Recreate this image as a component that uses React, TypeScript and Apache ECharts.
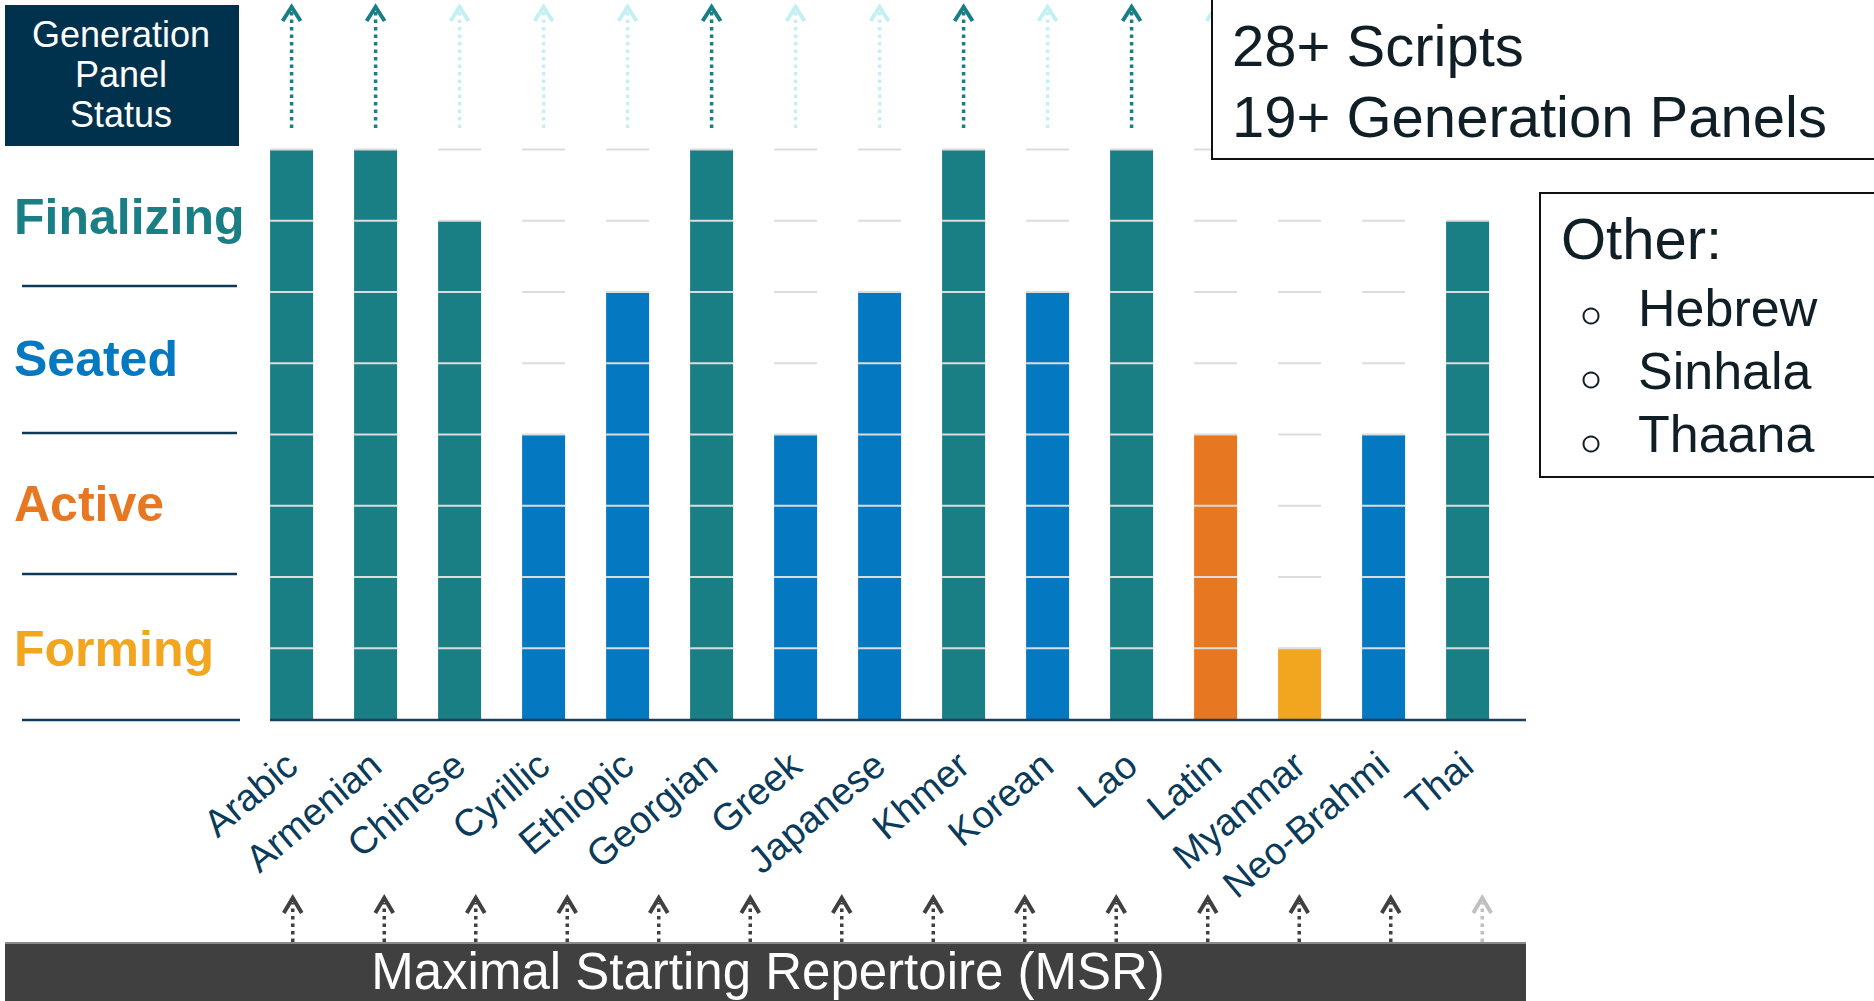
import React, { useEffect, useRef } from "react";
import * as echarts from "echarts";

const categories = ["Arabic", "Armenian", "Chinese", "Cyrillic", "Ethiopic", "Georgian", "Greek", "Japanese", "Khmer", "Korean", "Lao", "Latin", "Myanmar", "Neo-Brahmi", "Thai"];
const stageLevels = [8, 8, 7, 4, 6, 8, 4, 6, 8, 6, 8, 4, 1, 4, 7];
const panelStatus = ["Finalizing", "Finalizing", "Finalizing", "Seated", "Seated", "Finalizing", "Seated", "Seated", "Finalizing", "Seated", "Finalizing", "Active", "Forming", "Seated", "Finalizing"];
const panelArrowState = ["done", "done", "open", "open", "open", "done", "open", "open", "done", "open", "done", "open", "open", "open", "open"];
const msrArrowState = ["done", "done", "done", "done", "done", "done", "done", "done", "done", "done", "done", "done", "done", "open"];
const gridLevels = [1, 2, 3, 4, 5, 6, 7, 8];
const statusNames = ["Finalizing", "Seated", "Active", "Forming"];
const summaryLines = ["28+ Scripts", "19+ Generation Panels"];
const otherTitle = "Other:";
const otherScripts = ["Hebrew", "Sinhala", "Thaana"];
const titleText = "Generation\nPanel\nStatus";
const msrText = "Maximal Starting Repertoire (MSR)";

const FONT = "'Liberation Sans', Arial, sans-serif";
const statusColors: Record<string, string> = {
  Finalizing: "#1A7F84",
  Seated: "#0479C1",
  Active: "#E87722",
  Forming: "#F2A61F",
};
const panelArrowColors: Record<string, string> = { done: "#1A7F84", open: "#C4F0F4" };
const msrArrowColors: Record<string, string> = { done: "#404040", open: "#C0C0C0" };

function arrowShape(x: number, yBottom: number, yTop: number, color: string, half: number, head: number) {
  return {
    type: "group",
    children: [
      {
        type: "line",
        shape: { x1: x, y1: yBottom, x2: x, y2: yTop + 5 },
        style: { stroke: color, lineWidth: 3.5, lineDash: [3.5, 4] },
      },
      {
        type: "polyline",
        shape: { points: [[x - half, yTop + head], [x, yTop], [x + half, yTop + head]] },
        style: { stroke: color, lineWidth: 4, fill: "none", lineJoin: "miter" },
      },
    ],
  };
}

export default function App() {
  const ref = useRef<HTMLDivElement>(null);

  useEffect(() => {
    if (!ref.current) return;
    const chart = echarts.init(ref.current, undefined, { renderer: "svg" });

    const gridData: number[][] = [];
    categories.forEach((_, i) => gridLevels.forEach((lv) => gridData.push([i, lv])));

    const labelY = [217, 359, 504, 649];
    const sepY = [286, 433, 574];

    const graphic: any[] = [
      // title box
      { type: "rect", z: 100, shape: { x: 5, y: 5, width: 234, height: 141 }, style: { fill: "#00324E" } },
      {
        type: "text", z: 101, x: 121, y: 74,
        style: { text: titleText, fill: "#FFFFFF", fontSize: 36, fontFamily: FONT, lineHeight: 40, textAlign: "center", textVerticalAlign: "middle" },
      },
      // status labels
      ...statusNames.map((s, i) => ({
        type: "text", z: 100, x: 14, y: labelY[i],
        style: { text: s, fill: statusColors[s], fontSize: 50, fontWeight: "bold", fontFamily: FONT, textAlign: "left", textVerticalAlign: "middle" },
      })),
      ...sepY.map((y) => ({
        type: "line", z: 100, shape: { x1: 22, y1: y, x2: 237, y2: y }, style: { stroke: "#0E3A58", lineWidth: 2.5 },
      })),
      { type: "line", z: 100, shape: { x1: 22, y1: 720, x2: 240, y2: 720 }, style: { stroke: "#0E3A58", lineWidth: 2.5 } },
      // axis baseline
      { type: "line", z: 100, shape: { x1: 270, y1: 720, x2: 1526, y2: 720 }, style: { stroke: "#1B3F5C", lineWidth: 2.5 } },
      // summary box
      { type: "rect", z: 100, shape: { x: 1212, y: -5, width: 700, height: 164 }, style: { fill: "#FFFFFF", stroke: "#111111", lineWidth: 2 } },
      ...summaryLines.map((t, i) => ({
        type: "text", z: 101, x: 1232, y: 45 + i * 71,
        style: { text: t, fill: "#101F26", fontSize: 58, fontFamily: FONT, textAlign: "left", textVerticalAlign: "middle" },
      })),
      // other box
      { type: "rect", z: 100, shape: { x: 1540, y: 193, width: 400, height: 284 }, style: { fill: "#FFFFFF", stroke: "#111111", lineWidth: 2 } },
      {
        type: "text", z: 101, x: 1561, y: 238,
        style: { text: otherTitle, fill: "#101F26", fontSize: 58, fontFamily: FONT, textAlign: "left", textVerticalAlign: "middle" },
      },
      ...otherScripts.flatMap((t, i) => [
        { type: "circle", z: 101, shape: { cx: 1591, cy: 316 + i * 64, r: 7.5 }, style: { fill: "none", stroke: "#101F26", lineWidth: 2 } },
        {
          type: "text", z: 101, x: 1638, y: 308 + i * 63,
          style: { text: t, fill: "#101F26", fontSize: 52, fontFamily: FONT, textAlign: "left", textVerticalAlign: "middle" },
        },
      ]),
      // MSR bar
      { type: "rect", z: 100, shape: { x: 5, y: 942, width: 1521, height: 70 }, style: { fill: "#404040" } },
      { type: "line", z: 101, shape: { x1: 5, y1: 943, x2: 1526, y2: 943 }, style: { stroke: "#8A8A8A", lineWidth: 2 } },
      {
        type: "text", z: 102, x: 768, y: 971,
        style: { text: msrText, fill: "#FFFFFF", fontSize: 51, fontFamily: FONT, textAlign: "center", textVerticalAlign: "middle" },
      },
    ];

    chart.setOption({
      animation: false,
      backgroundColor: "#FFFFFF",
      grid: [
        { left: 249.6, width: 1260, top: 149.4, height: 570.1 },
        { left: 247, width: 1281, top: 898, height: 44 },
        { left: 249.6, width: 1260, top: 7, height: 121 },
      ],
      xAxis: [
        {
          type: "category", gridIndex: 0, data: categories,
          axisLine: { show: false }, axisTick: { show: false },
          axisLabel: { rotate: 40, margin: 40, fontSize: 38, color: "#0B3B5A", fontFamily: FONT, interval: 0 },
        },
        { type: "category", gridIndex: 1, data: msrArrowState.map((_, i) => "m" + i), show: false },
        { type: "category", gridIndex: 2, data: categories, show: false },
      ],
      yAxis: [
        { type: "value", gridIndex: 0, min: 0, max: 8, interval: 1, show: false },
        { type: "value", gridIndex: 1, min: 0, max: 1, show: false },
        { type: "value", gridIndex: 2, min: 0, max: 1, show: false },
      ],
      series: [
        {
          type: "bar", xAxisIndex: 0, yAxisIndex: 0, barWidth: 43, z: 2,
          data: stageLevels.map((v, i) => ({ value: v, itemStyle: { color: statusColors[panelStatus[i]] } })),
          silent: true,
        },
        {
          type: "custom", xAxisIndex: 0, yAxisIndex: 0, z: 3, silent: true,
          data: gridData,
          encode: { x: 0, y: 1 },
          renderItem: (params: any, api: any) => {
            const c = api.coord([api.value(0), api.value(1)]);
            const w = api.size([1, 0])[0] * 0.512;
            return {
              type: "line",
              shape: { x1: c[0] - w / 2, y1: c[1], x2: c[0] + w / 2, y2: c[1] },
              style: { stroke: "#DCDCDC", lineWidth: 2 },
            };
          },
        },
        {
          type: "custom", xAxisIndex: 2, yAxisIndex: 2, z: 3, silent: true, clip: false,
          data: panelArrowState.map((_, i) => [i, 1]),
          encode: { x: 0, y: 1 },
          renderItem: (params: any, api: any) => {
            const top = api.coord([api.value(0), 1]);
            const bottom = api.coord([api.value(0), 0]);
            return arrowShape(top[0], bottom[1], top[1], panelArrowColors[panelArrowState[params.dataIndex]], 9, 14);
          },
        },
        {
          type: "custom", xAxisIndex: 1, yAxisIndex: 1, z: 3, silent: true, clip: false,
          data: msrArrowState.map((_, i) => [i, 1]),
          encode: { x: 0, y: 1 },
          renderItem: (params: any, api: any) => {
            const top = api.coord([api.value(0), 1]);
            const bottom = api.coord([api.value(0), 0]);
            return arrowShape(top[0], bottom[1], top[1], msrArrowColors[msrArrowState[params.dataIndex]], 9, 15);
          },
        },
      ],
      graphic,
    });

    return () => chart.dispose();
  }, []);

  return <div ref={ref} style={{ position: "absolute", left: 0, top: 0, width: 1874, height: 1001 }} />;
}
